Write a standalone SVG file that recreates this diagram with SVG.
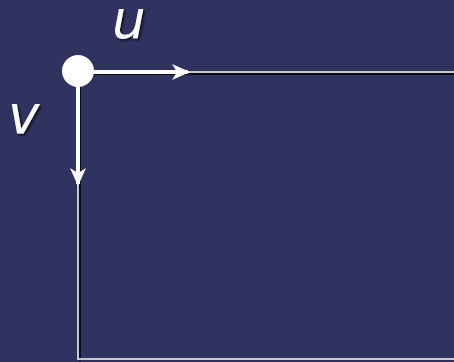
<svg xmlns="http://www.w3.org/2000/svg" width="454" height="362" viewBox="0 0 454 362">
<style>
.lbl{font-family:"DejaVu Sans","Liberation Sans",sans-serif;font-style:italic;font-size:53px;fill:#ffffff}
.shadow{fill:none;stroke:#0c0d1e;stroke-width:2}
.edge{fill:none;stroke:#c8c8c8;stroke-width:2}
.arrow{fill:none;stroke:#ffffff;stroke-width:4}
</style>
<defs>
<marker id="ah" viewBox="0 0 18 16" refX="16" refY="8" markerWidth="18" markerHeight="16" markerUnits="userSpaceOnUse" orient="auto">
<path d="M0,0 L18,8 L0,16 L5,8 Z" fill="#ffffff"/>
</marker>
<filter id="ts" x="-20%" y="-20%" width="150%" height="150%">
<feDropShadow dx="2" dy="2" stdDeviation="1" flood-color="#000" flood-opacity="0.6"/>
</filter>
</defs>
<rect width="454" height="362" fill="#30335f"/>
<g id="frame">
<path class="shadow" d="M80,74 H454 M80,74 V361"/>
<path class="edge" d="M78,72 H454 M78,72 V359 H454"/>
</g>
<g id="connectors">
<line class="arrow" x1="78" y1="72" x2="188" y2="72" marker-end="url(#ah)"/>
<line class="arrow" x1="78" y1="72" x2="78" y2="184" marker-end="url(#ah)"/>
</g>
<g id="origin">
<circle cx="78" cy="71" r="16" fill="#ffffff"/>
</g>
<g id="label-u"><text class="lbl" x="112" y="38" filter="url(#ts)">u</text></g>
<g id="label-v"><text class="lbl" x="8" y="133" filter="url(#ts)">v</text></g>
</svg>
